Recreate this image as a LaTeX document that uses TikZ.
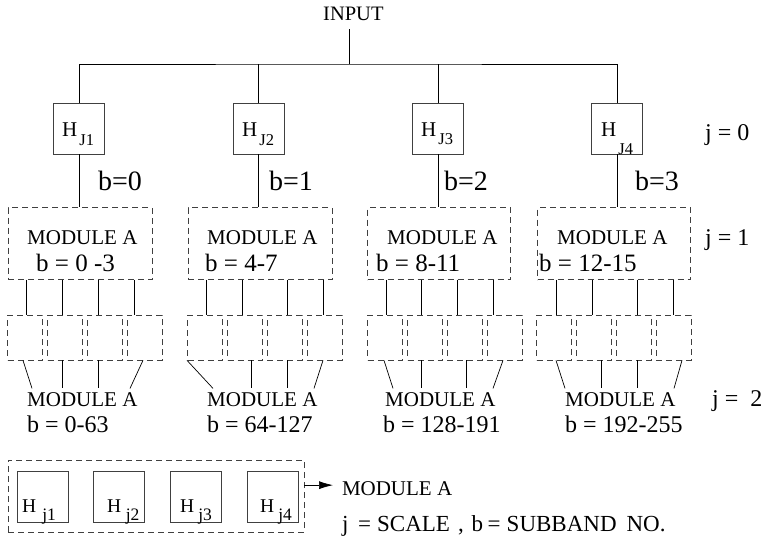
\documentclass[tikz,border=0pt]{standalone}
\usepackage{fontspec}
\setmainfont{Liberation Serif}
\usetikzlibrary{arrows.meta}
\newcommand{\fs}[1]{\fontsize{#1}{#1}\selectfont}
% H avec indice : #1 indice, #2 descente, #3 ecart, #4 taille
\newcommand{\Hsub}[4]{H\hspace{#3pt}\raisebox{-#2pt}{\fs{#4}#1}}

\begin{document}
\begin{tikzpicture}[x=1pt,y=-1pt]
  \tikzstyle{filtre}=[draw=black!75, line width=0.7pt, minimum width=51pt, minimum height=51pt, inner sep=0pt]
  \tikzstyle{module}=[draw=black!75, line width=0.7pt, dash pattern=on 6pt off 4pt, inner sep=0pt]
  \tikzstyle{lien}=[line width=0.7pt]
  \tikzstyle{texte}=[inner sep=0pt, anchor=base west]
  \useasboundingbox (0,0) rectangle (763,539);

  % entree et banc de filtres j = 0
  \node[texte, font=\fs{20.5}] (input) at (323,20.7) {INPUT};
  \coordinate (bus) at (349,64);
  \draw[lien] (input.south -| bus) ++(0,8) -- (bus);
  \foreach \i/\hx/\hl/\sub/\drop/\bx/\b in {1/79/62/J1/9.5/98/0, 2/258.5/242/J2/9.5/269/1,
                                          3/438/421/J3/8/444/2, 4/617/601/J4/18/635/3}
  {
    \node[filtre] (hb\i) at (\hx,128.5) {};
    \node[texte, font=\fs{21}] (ht\i) at (\hl,136) {\Hsub{\sub}{\drop}{2}{16.5}};
    \node[texte, font=\fs{28}] (bl\i) at (\bx,190) {b=\b};
  }
  \draw[lien] (hb1.north) |- (bus) -| (hb4.north);
  \draw[lien] (hb2.north) -- (hb2.north |- bus);
  \draw[lien] (hb3.north) -- (hb3.north |- bus);

  % modules j = 1
  \foreach \i/\mx/\mw/\ma/\mb/\rg in {1/80/144/27/36/{0 -3}, 2/260/144/207/205/4-7,
                                    3/439.2/143/387/376/8-11, 4/614/153/557/539/12-15}
  {
    \node[module, minimum width=\mw pt, minimum height=72pt] (mod\i) at (\mx,243.5) {};
    \node[texte, font=\fs{21}] (mt\i) at (\ma,244) {MODULE A};
    \node[texte, font=\fs{25}] (mr\i) at (\mb,271) {b = \rg};
    \draw[lien] (hb\i.south) -- (hb\i.south |- mod\i.north);
  }

  % sous-modules et liaisons
  \foreach \i/\gx/\ta/\tb/\tc/\td in {1/8/26/62/98/134, 2/188/206/242/287/323,
                                     3/368/386/421/457/493, 4/537/556/592/637/673}
  {
    \foreach \k in {0,...,3}
      \node[module, minimum width=35pt, minimum height=45pt] (sb\i\k) at ({\gx+17.3+39.7*\k},337.5) {};
    \foreach \tp [count=\k from 0] in {\ta,\tb,\tc,\td}
      \draw[lien] (mod\i.south -| \tp,0) -- (sb\i\k.north -| \tp,0);
  }

  % modules j = 2
  \foreach \i/\ma/\mb/\rg in {1/27/27/0-63, 2/207/207/64-127, 3/385/383/128-191, 4/565/565/192-255}
  {
    \node[texte, font=\fs{21}, inner ysep=3.5pt] (mm\i) at (\ma,406) {MODULE A};
    \node[texte, font=\fs{24}] (mn\i) at (\mb,432.7) {b = \rg};
  }
  \foreach \i/\sa/\ea/\sb/\sc/\sd/\ed in {1/23/32/62/98/143/130, 2/187/213/251/287/323/314,
                                         3/384/393/421/466/503/493, 4/556/565/601/637/682/674}
  {
    \draw[lien] (sb\i0.south -| \sa,0) -- (mm\i.north -| \ea,0);
    \draw[lien] (sb\i1.south -| \sb,0) -- (mm\i.north -| \sb,0);
    \draw[lien] (sb\i2.south -| \sc,0) -- (mm\i.north -| \sc,0);
    \draw[lien] (sb\i3.south -| \sd,0) -- (mm\i.north -| \ed,0);
  }

  % echelles
  \node[texte, font=\fs{24}] (j0) at (705,140.7) {j = 0};
  \node[texte, font=\fs{24}] (j1) at (705,245) {j = 1};
  \node[texte, font=\fs{24}] (j2) at (712,406) {j =\ \ 2};

  % legende
  \node[module, minimum width=296pt, minimum height=72pt] (leg) at (156,496) {};
  \foreach \k/\lx/\hl/\gap in {1/42.5/22/6, 2/119/107/4.5, 3/196/180/4, 4/272.5/260/4}
  {
    \node[filtre] (lh\k) at (\lx,496.5) {};
    \node[texte, font=\fs{19.5}] (lt\k) at (\hl,512) {\Hsub{j\k}{8}{\gap}{17.5}};
  }
  \node[texte, font=\fs{21}, outer xsep=9pt] (legmod) at (333,495) {MODULE A};
  \draw[lien, -{Latex[length=14pt,width=8pt]}] ([yshift=3pt]leg.east |- legmod.west) -- ([yshift=3pt]legmod.west);
  \node[texte, font=\fs{23}] (legtxt) at (342,531.7)
    {j\hspace{9.6pt}=\hspace{6pt}SCALE\hspace{8pt},\hspace{8pt}b\hspace{4.5pt}=\hspace{6pt}SUBBAND\hspace{10pt}NO.};
\end{tikzpicture}
\end{document}
